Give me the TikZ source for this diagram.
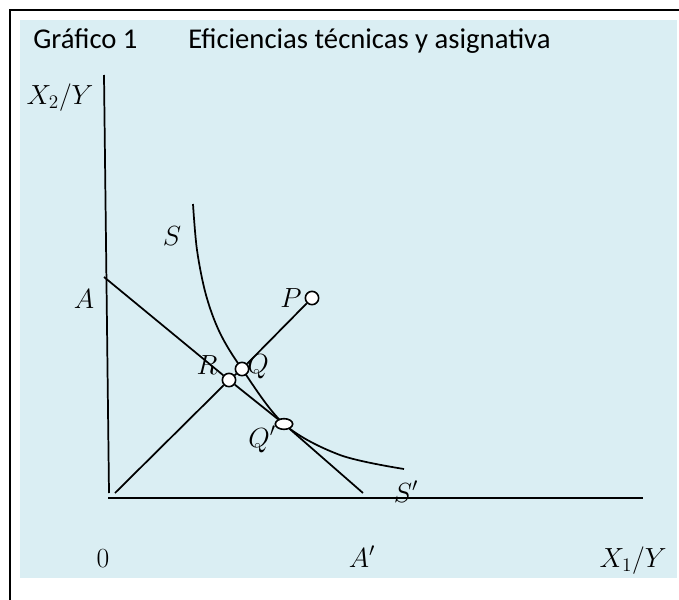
\documentclass[tikz,border=0pt]{standalone}
\usepackage{fontspec}
\newfontfamily\titlefont{Carlito}
\usetikzlibrary{shapes.geometric}
\definecolor{panelblue}{HTML}{DAEEF3}
\begin{document}
\begin{tikzpicture}[x=0.75pt,y=-0.75pt,
  ln/.style={line width=1.3pt, black},
  dot/.style={circle, draw=black, fill=white, line width=1.2pt, minimum size=10pt, inner sep=0pt},
  odot/.style={ellipse, draw=black, fill=white, line width=1.2pt, minimum width=13pt, minimum height=8pt, inner sep=0pt},
  lbl/.style={font=\fontsize{19.5}{23}\selectfont, inner sep=0pt, anchor=base},
  ttl/.style={font=\titlefont\fontsize{21.5}{26}\selectfont, inner sep=0pt, anchor=base west}]
\useasboundingbox (0,0) rectangle (679,600);
\clip (0,0) rectangle (679,600);
\fill[panelblue] (20,20) rectangle (677,578);
\draw[line width=1.5pt] (10,10) rectangle (720,640);
% title
\node[ttl] (t1) at (33,48) {Gráfico 1};
\node[ttl] (t2) at (188,48) {Eficiencias técnicas y asignativa};
% axes
\coordinate (ytop) at (104,75);
\coordinate (ybot) at (109,493);
\coordinate (xl) at (108,498);
\coordinate (xr) at (643,498);
\draw[ln] (ytop) -- (ybot);
\draw[ln] (xl) -- (xr);
% isoquant S S'
\coordinate (Stop) at (193,204);
\coordinate (Send) at (404,469);
\draw[ln] plot[smooth, tension=0.55] coordinates {(193,204) (197,250) (206,295) (220,333) (242,369) (284,424) (340,455) (404,469)};
% points
\node[dot] (P) at (312,298) {};
\node[dot] (Q) at (242,369) {};
\node[dot] (R) at (229,380) {};
\node[odot] (Qp) at (284,424) {};
\coordinate (O) at (115,493);
\coordinate (A) at (104,277);
\coordinate (Ap) at (363,493);
% lines
\draw[ln] (O) -- (R);
\draw[ln] (R) -- (Q);
\draw[ln] (Q) -- (P);
\draw[ln] (A) -- (R);
\draw[ln] (R) -- (Qp);
\draw[ln] (Qp) -- (Ap);
% labels
\node[lbl] (lX2) at (60,104) {$X_2/Y$};
\node[lbl] (lS) at (172,245) {$S$};
\node[lbl] (lA) at (84,308) {$A$};
\node[lbl] (lP) at (291,307) {$P$};
\node[lbl] (lR) at (207,374) {$R$};
\node[lbl] (lQ) at (258,373) {$Q$};
\node[lbl] (lQp) at (262,447) {$Q'$};
\node[lbl] (lSp) at (406,502) {$S'$};
\node[lbl] (l0) at (103,567) {$0$};
\node[lbl] (lAp) at (362,567) {$A'$};
\node[lbl] (lX1) at (633,567) {$X_1/Y$};
\end{tikzpicture}
\end{document}
